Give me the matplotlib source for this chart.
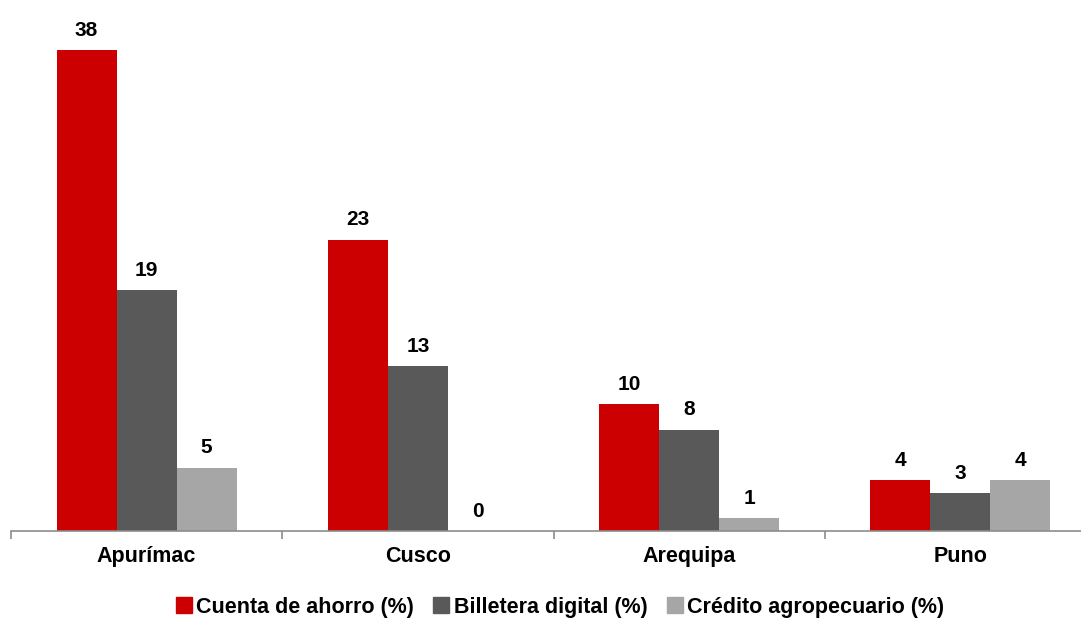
import matplotlib
matplotlib.use("Agg")
import matplotlib.pyplot as plt
import numpy as np
from matplotlib.patches import Patch

categories = ["Apurímac", "Cusco", "Arequipa", "Puno"]
series_names = ["Cuenta de ahorro (%)", "Billetera digital (%)", "Crédito agropecuario (%)"]
cuenta = [38, 23, 10, 4]
billetera = [19, 13, 8, 3]
credito = [5, 0, 1, 4]
colors = ["#CC0000", "#595959", "#A6A6A6"]

plt.rcParams['font.family'] = ['Liberation Sans', 'DejaVu Sans']

fig = plt.figure(figsize=(10.81, 6.19), dpi=100)
ax = fig.add_axes([11/1081, 88/619, 1085/1081, 506.4/619])

x = np.arange(len(categories))
w = 0.2215
for i, (vals, c) in enumerate(zip([cuenta, billetera, credito], colors)):
    pos = x + (i - 1) * w
    ax.bar(pos, vals, width=w, color=c, zorder=2)
    for xp, v in zip(pos, vals):
        ax.annotate(f"{v}", (xp, v), xytext=(0, 7.5), textcoords="offset points",
                    ha="center", va="bottom", fontsize=15, fontweight="bold")

ax.set_xlim(-0.5, 3.5)
ax.set_ylim(0, 40)
ax.set_yticks([])
for s in ["top", "right", "left"]:
    ax.spines[s].set_visible(False)
ax.spines["bottom"].set_color("#8C8C8C")
ax.spines["bottom"].set_linewidth(1.2)
ax.set_xticks(np.arange(-0.5, 4.0, 1.0), minor=False)
ax.set_xticklabels([])
ax.tick_params(axis="x", which="major", length=6, color="#8C8C8C", width=1.2)
ax.set_xticks(x, minor=True)
ax.set_xticklabels(categories, minor=True, fontsize=15.5, fontweight="bold")
ax.tick_params(axis="x", which="minor", length=0, pad=11)

handles = [Patch(color=c) for c in colors]
fig.legend(handles, series_names, loc="center", bbox_to_anchor=(560/1081, 1 - 607/619),
           ncol=3, frameon=False, prop={"size": 15.5, "weight": "bold"},
           handlelength=0.75, handleheight=0.75, handletextpad=0.2, columnspacing=0.9)

fig.savefig("out.png", dpi=100)
